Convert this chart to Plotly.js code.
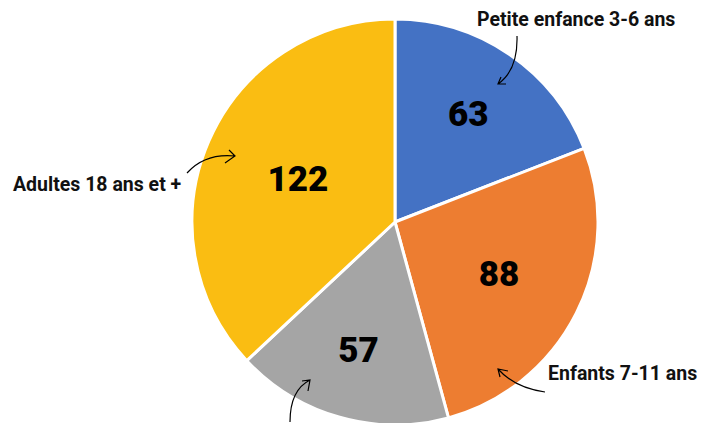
<!DOCTYPE html>
<html><head><meta charset="utf-8">
<script src="https://cdn.plot.ly/plotly-3.0.1.min.js"></script>
<style>html,body{margin:0;padding:0;overflow:hidden;background:#fff;width:716px;height:423px}</style>
</head><body>
<div id="chart" style="width:716px;height:440px"></div>
<script>
const categories = ["Petite enfance 3-6 ans", "Enfants 7-11 ans", "Adolescents 12-17 ans", "Adultes 18 ans et +"];
const values = [63, 88, 57, 122];
const colors = ["#4472C4", "#ED7D31", "#A5A5A5", "#FABD12"];

const W = 716, H = 440;
const px = x => x / W;
const py = y => (H - y) / H;
function arrowShape(start, ctrl, tip, b1, b2) {
  const d = `M${px(start[0])},${py(start[1])} Q${px(ctrl[0])},${py(ctrl[1])} ${px(tip[0])},${py(tip[1])} M${px(b1[0])},${py(b1[1])} L${px(tip[0])},${py(tip[1])} L${px(b2[0])},${py(b2[1])}`;
  return {type: 'path', xref: 'paper', yref: 'paper', path: d, line: {color: '#000', width: 1.2}};
}

const shapes = [
  arrowShape([517, 36], [518, 70], [498, 84], [501, 77], [506, 84]),
  arrowShape([187, 173], [205, 153], [235, 156], [229, 150], [225, 163]),
  arrowShape([290, 422], [290, 390], [310, 380], [302, 381], [308, 391]),
  arrowShape([545, 392], [515, 388], [498, 369], [508, 371], [500, 377])
];

const labelFont = {family: 'Roboto, sans-serif', size: 19.5, color: '#111', weight: 'bold'};
const annotations = [
  {text: categories[0], x: px(576), y: py(20), xref: 'paper', yref: 'paper', showarrow: false, xanchor: 'center', yanchor: 'middle', font: labelFont},
  {text: categories[3], x: px(184), y: py(185), xref: 'paper', yref: 'paper', showarrow: false, xanchor: 'right', yanchor: 'middle', font: labelFont},
  {text: categories[1], x: px(546), y: py(373), xref: 'paper', yref: 'paper', showarrow: false, xanchor: 'left', yanchor: 'middle', font: labelFont}
];

Plotly.newPlot('chart', [{
  type: 'pie',
  labels: categories,
  values: values,
  sort: false,
  direction: 'clockwise',
  rotation: 0,
  marker: {colors: colors, line: {color: '#fff', width: 3}},
  textinfo: 'value',
  textposition: 'inside',
  insidetextorientation: 'horizontal',
  textfont: {family: 'Roboto, sans-serif', size: 35, color: '#000', weight: 900},
  hoverinfo: 'label+value',
  domain: {x: [px(192), px(598)], y: [py(425), py(19)]}
}], {
  width: W, height: H,
  margin: {l: 0, r: 0, t: 0, b: 0},
  showlegend: false,
  paper_bgcolor: '#fff',
  shapes: shapes,
  annotations: annotations
}, {displayModeBar: false, staticPlot: true});
</script>
</body></html>
